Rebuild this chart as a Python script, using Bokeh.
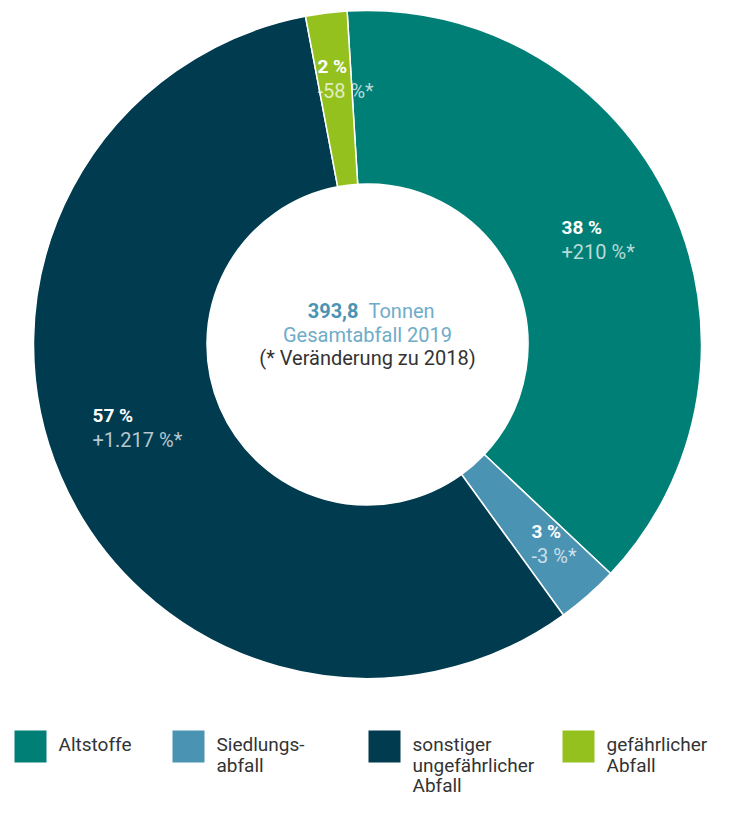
import math
from bokeh.plotting import figure
from bokeh.models import Range1d, ColumnDataSource
from bokeh.core.properties import value
from bokeh.embed import file_html
from bokeh.resources import INLINE

# ---- data ----
categories = ["Altstoffe", "Siedlungsabfall", "sonstiger ungefährlicher Abfall", "gefährlicher Abfall"]
shares = [38, 3, 57, 2]
share_labels = ["38 %", "3 %", "57 %", "2 %"]
change_labels = ["+210 %*", "-3 %*", "+1.217 %*", "-58 %*"]
legend_lines = [["Altstoffe"], ["Siedlungs-", "abfall"], ["sonstiger", "ungefährlicher", "Abfall"], ["gefährlicher", "Abfall"]]
colors = ["#007F76", "#4A93B3", "#003B4F", "#95C11F"]
total_value = "393,8"
total_unit = "Tonnen"
center_line2 = "Gesamtabfall 2019"
center_line3 = "(* Veränderung zu 2018)"

FONT = "Roboto"
W, H = 713, 801
TXT_SHIFT = 8  # compensation for rendered text baseline

# pixel coords (from top-left of figure) -> data coords
def Y(py):
    return H - py

def YT(py):
    return H - py + TXT_SHIFT

p = figure(width=W, height=H, output_backend="svg", toolbar_location=None,
           x_range=Range1d(0, W), y_range=Range1d(0, H),
           min_border=0, outline_line_color=None)
p.axis.visible = False
p.grid.visible = False
p.background_fill_color = "white"
p.border_fill_color = "white"

cx, cy = 367, Y(344)
r_out, r_in = 334, 160.5
start_cw = -3.5  # degrees clockwise from top

total = sum(shares)
starts, ends = [], []
acc = start_cw
for s in shares:
    a0 = acc
    a1 = acc + 360.0 * s / total
    starts.append(math.radians(90 - a0))
    ends.append(math.radians(90 - a1))
    acc = a1

src = ColumnDataSource(dict(x=[cx] * len(shares), y=[cy] * len(shares),
                            start=starts, end=ends, color=colors))
p.annular_wedge(x="x", y="y", inner_radius=r_in, outer_radius=r_out,
                start_angle="start", end_angle="end", direction="clock",
                fill_color="color", line_color="white", line_width=1.5, source=src)

# slice labels (layout positions: left x, first baseline y)
label_pos = [(561, 235), (531, 539), (92, 423), (317, 74)]
for (lx, ly), sl, cl in zip(label_pos, share_labels, change_labels):
    p.text(x=[lx], y=[YT(ly)], text=[sl], text_font=value(FONT), text_font_size="19px",
           text_font_style="bold", text_color="white", text_align="left",
           text_baseline="alphabetic")
    p.text(x=[lx], y=[YT(ly + 24)], text=[cl], text_font=value(FONT), text_font_size="20px",
           text_color="white", text_alpha=0.72, text_align="left",
           text_baseline="alphabetic")

# center text
p.text(x=[358], y=[YT(318)], text=[total_value], text_font=value(FONT), text_font_size="20px",
       text_font_style="bold", text_color="#4A93B3", text_align="right", text_baseline="alphabetic")
p.text(x=[368], y=[YT(318)], text=[total_unit], text_font=value(FONT), text_font_size="20px",
       text_color="#6FACC8", text_align="left", text_baseline="alphabetic")
p.text(x=[cx], y=[YT(342)], text=[center_line2], text_font=value(FONT), text_font_size="20px",
       text_color="#6FACC8", text_align="center", text_baseline="alphabetic")
p.text(x=[cx], y=[YT(365.5)], text=[center_line3], text_font=value(FONT), text_font_size="20px",
       text_color="#333333", text_align="center", text_baseline="alphabetic")

# legend
leg_x = [14, 172, 368, 562]
sq_top, sq_size = 730, 32
p.quad(left=leg_x, right=[x + sq_size for x in leg_x],
       top=[Y(sq_top)] * 4, bottom=[Y(sq_top + sq_size)] * 4,
       fill_color=colors, line_color=None)
for lx, lines in zip(leg_x, legend_lines):
    for i, t in enumerate(lines):
        p.text(x=[lx + 44], y=[YT(752 + 20.5 * i)], text=[t], text_font=value(FONT),
               text_font_size="19px", text_color="#333333", text_align="left",
               text_baseline="alphabetic")

open("out.html", "w").write(file_html(p, INLINE))
